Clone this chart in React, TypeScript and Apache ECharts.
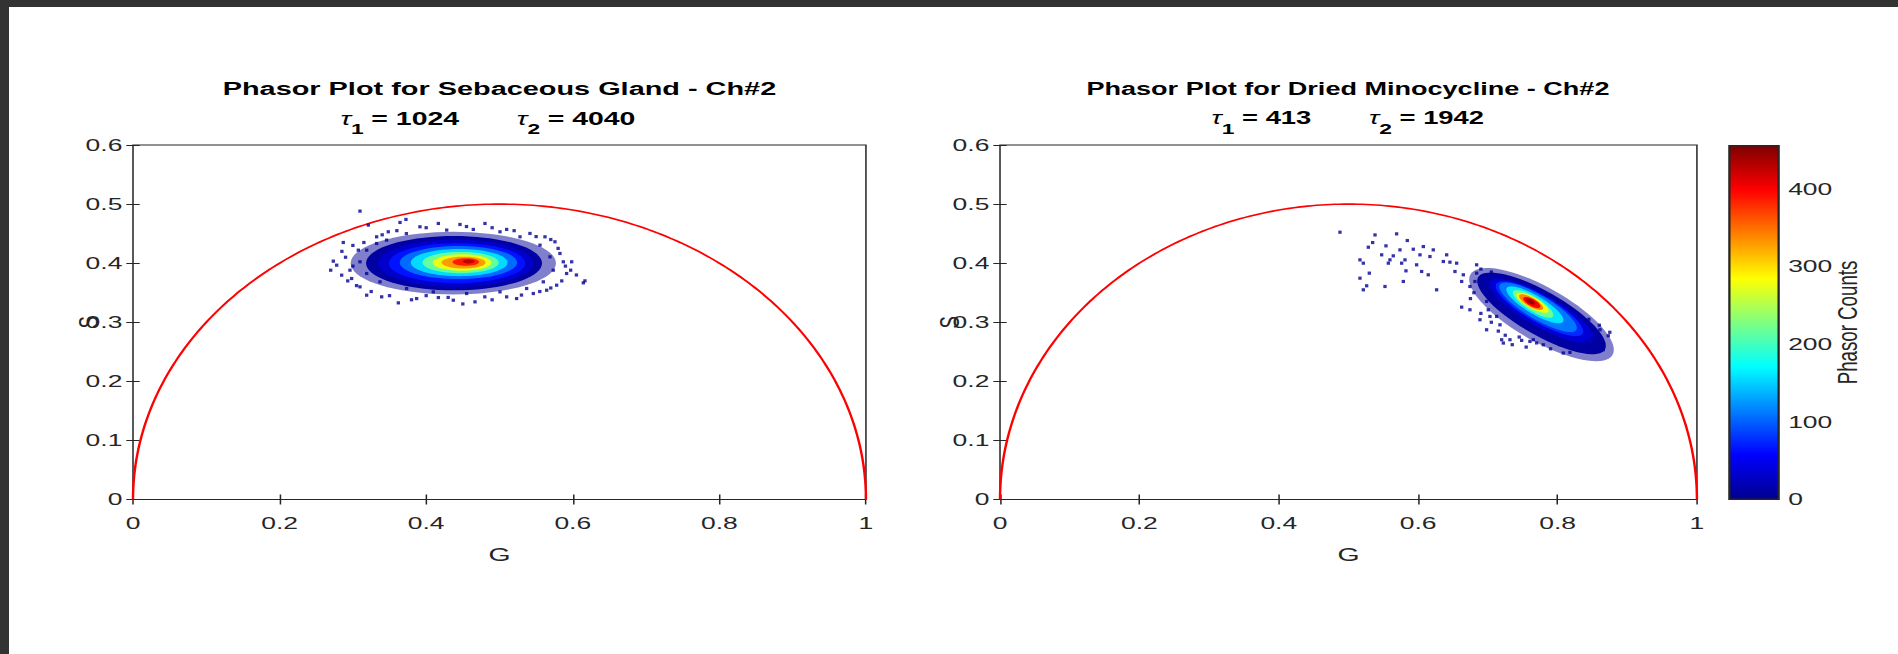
import React, { useEffect, useRef } from 'react';
import * as echarts from 'echarts';

// ---------- data ----------
const titles = ['Phasor Plot for Sebaceous Gland - Ch#2', 'Phasor Plot for Dried Minocycline - Ch#2'];
const tau1 = [1024, 413];
const tau2 = [4040, 1942];
const axisNameX = 'G';
const axisNameY = 'S';
const colorbarName = 'Phasor Counts';
const colorbarMax = 456;

// universal circle: [center G, center S, radius]
const universalCircle = [[0.5, 0, 0.5]];

// density levels: [centerG, centerS, count, majorEndG, majorEndS, minorEndG, minorEndS]
const glandLevels = [
  [0.437, 0.400, 4, 0.577, 0.400, 0.437, 0.453],
  [0.438, 0.400, 10, 0.558, 0.400, 0.438, 0.446],
  [0.440, 0.400, 30, 0.546, 0.400, 0.440, 0.440],
  [0.442, 0.400, 65, 0.535, 0.400, 0.442, 0.434],
  [0.444, 0.401, 105, 0.524, 0.401, 0.444, 0.429],
  [0.445, 0.401, 155, 0.511, 0.401, 0.445, 0.424],
  [0.447, 0.401, 215, 0.499, 0.401, 0.447, 0.419],
  [0.449, 0.401, 275, 0.489, 0.401, 0.449, 0.415],
  [0.451, 0.401, 330, 0.481, 0.401, 0.451, 0.411],
  [0.454, 0.402, 385, 0.472, 0.402, 0.454, 0.4085],
  [0.458, 0.403, 425, 0.466, 0.403, 0.458, 0.4065],
];

const minoLevels = [
  [0.777, 0.313, 4, 0.675, 0.381, 0.796, 0.353],
  [0.777, 0.315, 10, 0.686, 0.376, 0.7925, 0.3474],
  [0.777, 0.3195, 35, 0.703, 0.369, 0.7883, 0.3431],
  [0.774, 0.323, 75, 0.712, 0.365, 0.7835, 0.343],
  [0.772, 0.3253, 110, 0.717, 0.3633, 0.7805, 0.343],
  [0.7675, 0.3295, 160, 0.727, 0.3578, 0.7739, 0.3428],
  [0.765, 0.331, 220, 0.7363, 0.352, 0.77, 0.3413],
  [0.764, 0.333, 280, 0.7413, 0.348, 0.7679, 0.3411],
  [0.762, 0.334, 340, 0.745, 0.3455, 0.7652, 0.3406],
  [0.763, 0.3335, 400, 0.751, 0.3412, 0.7655, 0.3387],
  [0.761, 0.335, 445, 0.755, 0.339, 0.7624, 0.338],
];

// sparse phasor bins: [G, S, count]
const glandSparse = [
  [0.3097, 0.4881, 3], [0.3211, 0.4644, 3], [0.3643, 0.4689, 3], [0.3724, 0.474, 3], [0.2869, 0.435, 3],
  [0.2733, 0.4034, 3], [0.2697, 0.3881, 3], [0.2779, 0.3966, 3], [0.296, 0.3881, 3], [0.2847, 0.3797, 3],
  [0.2983, 0.374, 3], [0.3097, 0.3599, 3], [0.3188, 0.3458, 3], [0.3393, 0.343, 3], [0.362, 0.3328, 3],
  [0.387, 0.3401, 3], [0.4166, 0.3418, 3], [0.437, 0.3373, 3], [0.4666, 0.3345, 3], [0.5098, 0.343, 3],
  [0.5234, 0.3401, 3], [0.5462, 0.3486, 3], [0.5644, 0.3542, 3], [0.578, 0.3627, 3], [0.5916, 0.3825, 3],
  [0.5985, 0.4023, 3], [0.5971, 0.3881, 3], [0.6166, 0.3701, 3], [0.6144, 0.3667, 3], [0.5757, 0.4362, 3],
  [0.5621, 0.4446, 3], [0.5416, 0.4503, 3], [0.5098, 0.4571, 3], [0.4802, 0.4672, 3], [0.4461, 0.4655, 3],
  [0.4166, 0.4672, 3], [0.3915, 0.4616, 3], [0.3483, 0.4531, 3], [0.3324, 0.4446, 3], [0.3074, 0.422, 3],
  [0.5825, 0.4164, 3], [0.5871, 0.4023, 3],
  [0.346, 0.439, 5], [0.373, 0.45, 5], [0.428, 0.456, 5], [0.4643, 0.4571, 5], [0.5007, 0.4531, 5],
  [0.528, 0.4446, 5], [0.5553, 0.4305, 5], [0.5689, 0.4107, 5], [0.5734, 0.3881, 5], [0.5598, 0.3684, 5],
  [0.5371, 0.3571, 5], [0.5007, 0.3514, 5], [0.4552, 0.3486, 5], [0.4097, 0.3514, 5], [0.3733, 0.3571, 5],
  [0.337, 0.3684, 5], [0.3188, 0.3825, 5], [0.3097, 0.4023, 5], [0.3188, 0.422, 5], [0.3324, 0.4333, 5],
  [0.29, 0.41, 3], [0.30, 0.395, 3], [0.293, 0.37, 3], [0.305, 0.362, 3], [0.325, 0.352, 3],
  [0.35, 0.345, 3], [0.38, 0.338, 3], [0.40, 0.345, 3], [0.43, 0.342, 3], [0.45, 0.331, 3],
  [0.48, 0.343, 3], [0.49, 0.338, 3], [0.53, 0.346, 3], [0.555, 0.352, 3], [0.57, 0.358, 3],
  [0.585, 0.37, 3], [0.59, 0.395, 3], [0.605, 0.38, 3], [0.58, 0.425, 3], [0.57, 0.44, 3],
  [0.55, 0.445, 3], [0.52, 0.455, 3], [0.49, 0.46, 3], [0.455, 0.462, 3], [0.40, 0.46, 3],
  [0.36, 0.455, 3], [0.34, 0.448, 3], [0.315, 0.435, 3], [0.30, 0.43, 3], [0.285, 0.42, 3],
];

const minoSparse = [
  [0.4878, 0.4524, 3], [0.5381, 0.4478, 3], [0.5691, 0.4496, 3], [0.5844, 0.4383, 3], [0.5347, 0.4349, 3],
  [0.5285, 0.427, 3], [0.5538, 0.4293, 3], [0.5739, 0.4225, 3], [0.593, 0.4236, 3], [0.6074, 0.4281, 3],
  [0.6217, 0.4225, 3], [0.5165, 0.4056, 3], [0.5476, 0.4141, 3], [0.5595, 0.4056, 3], [0.5643, 0.4124, 3],
  [0.5811, 0.4056, 3], [0.6026, 0.4141, 3], [0.6169, 0.4112, 3], [0.6409, 0.4141, 3], [0.5213, 0.4, 3],
  [0.5572, 0.4, 3], [0.5763, 0.4, 3], [0.5978, 0.3972, 3], [0.6361, 0.4028, 3], [0.6456, 0.4017, 3],
  [0.6552, 0.4, 3], [0.5299, 0.3831, 3], [0.5825, 0.387, 3], [0.605, 0.3859, 3], [0.6145, 0.3803, 3],
  [0.5165, 0.3746, 3], [0.5261, 0.3617, 3], [0.5524, 0.3605, 3], [0.5787, 0.369, 3], [0.6265, 0.3549, 3],
  [0.5213, 0.3549, 3], [0.6528, 0.3859, 3], [0.6648, 0.3803, 3], [0.6624, 0.369, 3], [0.6839, 0.3972, 3],
  [0.6839, 0.3831, 3], [0.6815, 0.369, 3], [0.6743, 0.3605, 3],
  [0.6624, 0.3256, 3], [0.6743, 0.3211, 3], [0.6982, 0.3352, 3], [0.7006, 0.3211, 3], [0.703, 0.3098, 3],
  [0.7126, 0.3098, 3], [0.7174, 0.2957, 3], [0.6887, 0.3042, 3], [0.6982, 0.2873, 3], [0.7198, 0.2704, 3],
  [0.7222, 0.2648, 3], [0.7317, 0.2704, 3], [0.7485, 0.2693, 3], [0.7604, 0.2676, 3], [0.7652, 0.2704, 3],
  [0.8035, 0.2619, 3], [0.8178, 0.249, 3], [0.8082, 0.2479, 3], [0.8656, 0.2535, 3], [0.8561, 0.2507, 3],
  [0.8728, 0.2772, 3], [0.8609, 0.2873, 3], [0.8417, 0.2676, 3], [0.8441, 0.2591, 3], [0.7795, 0.2619, 3],
  [0.7843, 0.2817, 3],
  [0.69, 0.315, 3], [0.705, 0.3, 3], [0.715, 0.285, 3], [0.725, 0.278, 3], [0.735, 0.262, 3],
  [0.745, 0.275, 3], [0.755, 0.258, 3], [0.77, 0.265, 3], [0.79, 0.255, 3], [0.8, 0.27, 3],
  [0.825, 0.255, 3], [0.835, 0.262, 3], [0.85, 0.272, 3], [0.865, 0.265, 3], [0.875, 0.283, 3],
  [0.86, 0.295, 3], [0.845, 0.305, 3], [0.82, 0.32, 3], [0.8, 0.335, 3], [0.785, 0.345, 3],
  [0.765, 0.36, 3], [0.745, 0.37, 3], [0.725, 0.375, 3], [0.705, 0.385, 3], [0.69, 0.39, 3],
  [0.68, 0.35, 3], [0.675, 0.34, 3], [0.71, 0.33, 3],
];

const jetColors = ['#00008f', '#0000ff', '#0080ff', '#00ffff', '#80ff80', '#ffff00', '#ff8000', '#ff0000', '#800000'];

// ---------- layout / style ----------
const PAGE_W = 1898;
const PAGE_H = 654;
const SX = 1.52; // horizontal stretch of the reference picture
const FONT = "'Liberation Sans', Arial, Helvetica, sans-serif";
const INK = '#262626';

const gridBox = { show: true, borderColor: INK, borderWidth: 1, backgroundColor: 'transparent' };

function renderCircle(params: any, api: any) {
  const cg = api.value(0);
  const cs = api.value(1);
  const r = api.value(2);
  const c = api.coord([cg, cs]);
  const e = api.coord([cg + r, cs]);
  const t = api.coord([cg, cs + r]);
  const rx = e[0] - c[0];
  const ry = c[1] - t[1];
  const pts: number[][] = [];
  const n = 240;
  for (let i = 0; i <= n; i++) {
    const a = Math.PI * (1 - i / n);
    pts.push([c[0] + rx * Math.cos(a), c[1] - ry * Math.sin(a)]);
  }
  return {
    type: 'polyline',
    shape: { points: pts },
    style: { stroke: '#ff0000', lineWidth: 1.6, fill: null },
  };
}

function renderLevel(params: any, api: any) {
  const c = api.coord([api.value(0), api.value(1)]);
  const a = api.coord([api.value(3), api.value(4)]);
  const b = api.coord([api.value(5), api.value(6)]);
  const ux = a[0] - c[0], uy = a[1] - c[1];
  const vx = b[0] - c[0], vy = b[1] - c[1];
  const pts: number[][] = [];
  const n = 72;
  for (let i = 0; i < n; i++) {
    const t = (i / n) * Math.PI * 2;
    pts.push([c[0] + ux * Math.cos(t) + vx * Math.sin(t), c[1] + uy * Math.cos(t) + vy * Math.sin(t)]);
  }
  const sparse = api.value(2) < 6;
  return {
    type: 'polygon',
    shape: { points: pts },
    style: { fill: api.visual('color'), opacity: sparse ? 0.5 : 1 },
  };
}

const levelDims = ['g', 's', 'count', 'ag', 'as', 'bg', 'bs'];

function plotXAxes(gridIndex: number) {
  return [
    {
      gridIndex, type: 'value', min: 0, max: 1, interval: 0.2, position: 'bottom',
      axisLine: { show: false }, splitLine: { show: false },
      axisTick: { inside: true, length: 5, lineStyle: { color: INK } },
      axisLabel: { fontSize: 17.4, fontFamily: FONT, color: INK, margin: 15 },
      name: axisNameX, nameLocation: 'middle', nameGap: 45, nameMoveOverlap: false,
      nameTextStyle: { fontSize: 18.7, fontFamily: FONT, color: INK },
    },
    {
      gridIndex, type: 'value', min: 0, max: 1, interval: 0.2, position: 'top',
      axisLine: { show: false }, splitLine: { show: false },
      axisTick: { inside: true, length: 5, lineStyle: { color: INK } },
      axisLabel: { show: false },
    },
  ];
}

function plotYAxes(gridIndex: number, nameGap: number) {
  return [
    {
      gridIndex, type: 'value', min: 0, max: 0.6, interval: 0.1, position: 'left',
      axisLine: { show: false }, splitLine: { show: false },
      axisTick: { inside: true, length: 4.4, lineStyle: { color: INK } },
      axisLabel: { fontSize: 17.4, fontFamily: FONT, color: INK, margin: 7 },
      name: axisNameY, nameLocation: 'middle', nameGap, nameRotate: 90, nameMoveOverlap: false,
      nameTextStyle: { fontSize: 18.7, fontFamily: FONT, color: INK },
    },
    {
      gridIndex, type: 'value', min: 0, max: 0.6, interval: 0.1, position: 'right',
      axisLine: { show: false }, splitLine: { show: false },
      axisTick: { inside: true, length: 4.4, lineStyle: { color: INK } },
      axisLabel: { show: false },
    },
  ];
}

function tauLine(i: number, fs: number) {
  return {
    text: `{tau|τ}{sub|1}{v|= ${tau1[i]}}{gap| }{tau|τ}{sub|2}{v|= ${tau2[i]}}`,
    align: 'center',
    verticalAlign: 'top',
    rich: {
      tau: { fontSize: fs, fontStyle: 'italic', fontFamily: FONT, fill: '#000', verticalAlign: 'top' },
      sub: { fontSize: 15, fontWeight: 'bold', fontFamily: FONT, fill: '#000', padding: [12, 0, 0, 0], verticalAlign: 'top' },
      v: { fontSize: fs, fontWeight: 'bold', fontFamily: FONT, fill: '#000', padding: [0, 0, 0, 5], verticalAlign: 'top' },
      gap: { width: 38, fontSize: fs, verticalAlign: 'top' },
    },
  };
}

function buildOption() {
  const jetStops = jetColors.map((color, i) => ({ offset: i / (jetColors.length - 1), color }));
  return {
    animation: false,
    grid: [
      { left: 87.5, top: 145, width: 482.2, height: 354.5, ...gridBox },
      { left: 657.9, top: 145, width: 458.5, height: 354.5, ...gridBox },
      { left: 1137.5, top: 145.5, width: 32.9, height: 354, ...gridBox },
    ],
    xAxis: [
      ...plotXAxes(0),
      ...plotXAxes(1),
      { gridIndex: 2, type: 'category', data: [colorbarName], show: false },
    ],
    yAxis: [
      ...plotYAxes(0, 20),
      ...plotYAxes(1, 24),
      {
        gridIndex: 2, type: 'value', min: 0, max: colorbarMax, interval: 100, position: 'right',
        axisLine: { show: false }, splitLine: { show: false },
        axisTick: { inside: true, length: 5, lineStyle: { color: INK } },
        axisLabel: {
          fontSize: 17.4, fontFamily: FONT, color: INK, margin: 6, showMaxLabel: false,
          formatter: (v: number) => (v % 100 === 0 ? String(v) : ''),
        },
        name: colorbarName, nameLocation: 'middle', nameRotate: 90, nameGap: 35, nameMoveOverlap: false,
        nameTextStyle: { fontSize: 18.7, fontFamily: FONT, color: INK },
      },
    ],
    visualMap: {
      type: 'continuous', show: false, min: 0, max: colorbarMax, dimension: 2,
      seriesIndex: [1, 2, 4, 5],
      inRange: { color: jetColors },
    },
    series: [
      { type: 'custom', xAxisIndex: 0, yAxisIndex: 0, renderItem: renderCircle, data: universalCircle, silent: true, encode: { x: 0, y: 1 } },
      { type: 'custom', xAxisIndex: 0, yAxisIndex: 0, renderItem: renderLevel, data: glandLevels, dimensions: levelDims, encode: { x: 0, y: 1 }, silent: true },
      { type: 'scatter', xAxisIndex: 0, yAxisIndex: 0, data: glandSparse, symbol: 'rect', symbolSize: [2.2, 3.2], silent: true },
      { type: 'custom', xAxisIndex: 2, yAxisIndex: 2, renderItem: renderCircle, data: universalCircle, silent: true, encode: { x: 0, y: 1 } },
      { type: 'custom', xAxisIndex: 2, yAxisIndex: 2, renderItem: renderLevel, data: minoLevels, dimensions: levelDims, encode: { x: 0, y: 1 }, silent: true },
      { type: 'scatter', xAxisIndex: 2, yAxisIndex: 2, data: minoSparse, symbol: 'rect', symbolSize: [2.2, 3.2], silent: true },
      {
        type: 'bar', xAxisIndex: 4, yAxisIndex: 4, data: [colorbarMax], barWidth: '100%', silent: true,
        itemStyle: { color: new echarts.graphic.LinearGradient(0, 1, 0, 0, jetStops), borderColor: INK, borderWidth: 1 },
      },
    ],
    graphic: [
      {
        type: 'text', x: 328.6, y: 88.8,
        style: { text: titles[0], fontSize: 19, fontWeight: 'bold', fontFamily: FONT, fill: '#000', align: 'center', verticalAlign: 'middle' },
      },
      { type: 'text', x: 321, y: 109.2, style: tauLine(0, 18.7) },
      {
        type: 'text', x: 886.8, y: 88.8,
        style: { text: titles[1], fontSize: 17.8, fontWeight: 'bold', fontFamily: FONT, fill: '#000', align: 'center', verticalAlign: 'middle' },
      },
      { type: 'text', x: 886.7, y: 109.2, style: tauLine(1, 18) },
    ],
  };
}

export default function App() {
  const ref = useRef<HTMLDivElement>(null);
  useEffect(() => {
    if (!ref.current) return;
    const chart = echarts.init(ref.current, null, { renderer: 'svg' });
    chart.setOption(buildOption() as any);
    return () => chart.dispose();
  }, []);
  return (
    <div style={{ position: 'fixed', left: 0, top: 0, width: PAGE_W, height: PAGE_H, background: '#333333', overflow: 'hidden' }}>
      <div style={{ position: 'absolute', left: 9, top: 7, right: 0, bottom: 0, background: '#ffffff' }} />
      <div
        ref={ref}
        style={{
          position: 'absolute', left: 0, top: 0,
          width: PAGE_W / SX, height: PAGE_H,
          transform: `scaleX(${SX})`, transformOrigin: '0 0',
        }}
      />
    </div>
  );
}
